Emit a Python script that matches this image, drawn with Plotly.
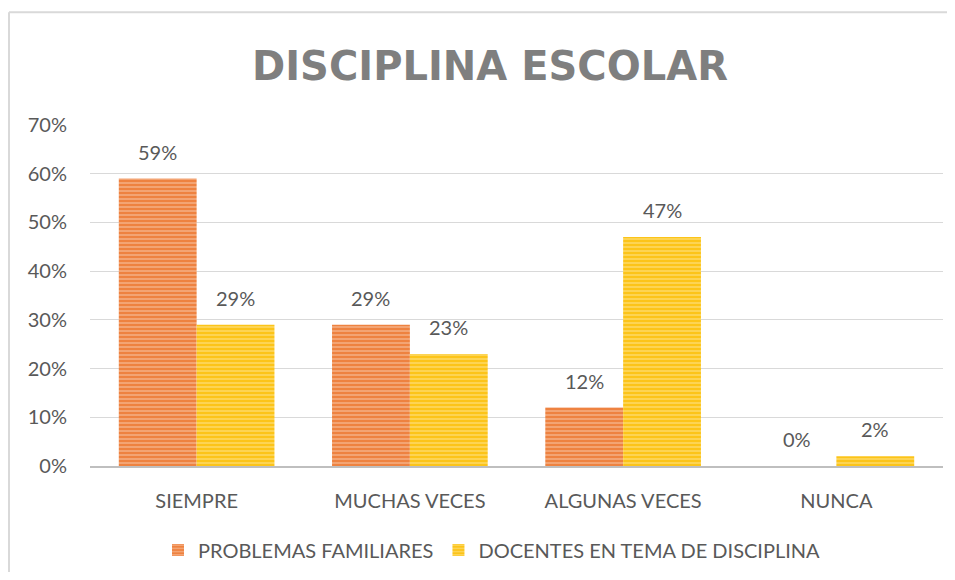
import plotly.graph_objects as go

categories = ["SIEMPRE", "MUCHAS VECES", "ALGUNAS VECES", "NUNCA"]
problemas_familiares = [0.59, 0.29, 0.12, 0.00]
docentes_disciplina = [0.29, 0.23, 0.47, 0.02]
series_names = ["PROBLEMAS FAMILIARES", "DOCENTES EN TEMA DE DISCIPLINA"]
y_ticks = [0, 0.1, 0.2, 0.3, 0.4, 0.5, 0.6, 0.7]

FONT = "Lato, Open Sans, sans-serif"
TXT = "#595959"
FS = 20

series = [
    (problemas_familiares, series_names[0], "#EE8240", "#F9CFB2", -1),
    (docentes_disciplina, series_names[1], "#FCC419", "#FFE89A", 1),
]

# page body adds an 8px offset; design in figure coordinates
W, H = 939, 564
L, R, T, B = 82, 4, 117, 105
pw, ph = W - L - R, H - T - B

BARGAP = 0.27
cat_px = pw / len(categories)
bar_px = cat_px * (1 - BARGAP) / 2

fig = go.Figure()
annotations = []
for vals, name, base, light, side in series:
    fig.add_trace(go.Bar(
        x=categories, y=vals, name=name,
        marker=dict(color=base,
                    pattern=dict(shape="-", fgcolor=light, bgcolor=base, size=4, solidity=0.45),
                    line=dict(width=0)),
    ))
    for c, v in zip(categories, vals):
        annotations.append(dict(
            x=c, y=v, xref="x", yref="y", text=f"{round(v * 100)}%",
            showarrow=False, xanchor="center", yanchor="bottom",
            xshift=side * bar_px / 2, yshift=13,
            font=dict(size=FS, color=TXT, family=FONT),
        ))

fig.update_layout(
    width=W, height=H,
    margin=dict(l=L, r=R, t=T, b=B, pad=0),
    paper_bgcolor="white", plot_bgcolor="white",
    barmode="group", bargap=BARGAP, bargroupgap=0,
    font=dict(family=FONT, color=TXT, size=FS),
    title=dict(text="<b>DISCIPLINA ESCOLAR</b>", x=(482 - L) / pw, xref="paper", xanchor="center",
               y=1 - 58 / H, yanchor="middle",
               font=dict(size=40, color="#7F7F7F", family="DejaVu Sans, sans-serif")),
    xaxis=dict(showgrid=False, showline=True, linecolor="#BFBFBF", linewidth=2,
               ticks="", ticklabelstandoff=16, tickfont=dict(size=FS, color=TXT)),
    yaxis=dict(range=[0, 0.7], tickvals=y_ticks, tickformat=".0%",
               showgrid=True, gridcolor="#D9D9D9", gridwidth=1, zeroline=False,
               showline=False, ticks="", ticklabelstandoff=22,
               tickfont=dict(size=FS, color=TXT)),
    legend=dict(orientation="h", x=(484 - L) / pw, xanchor="center",
                y=(459 - 542) / ph, yanchor="middle",
                font=dict(size=FS, color=TXT), itemclick=False),
    showlegend=True,
    annotations=annotations,
)

# outer chart border: left and top edges
x_left = (1 - L) / pw
y_top = (459 - 4) / ph
fig.add_shape(type="line", xref="paper", yref="paper", x0=x_left, x1=x_left, y0=-1.0, y1=y_top,
              line=dict(color="#D9D9D9", width=2), layer="below")
fig.add_shape(type="line", xref="paper", yref="paper", x0=x_left, x1=1.2, y0=y_top, y1=y_top,
              line=dict(color="#D9D9D9", width=2), layer="below")

fig.write_html("out.html", config={"displayModeBar": False})
